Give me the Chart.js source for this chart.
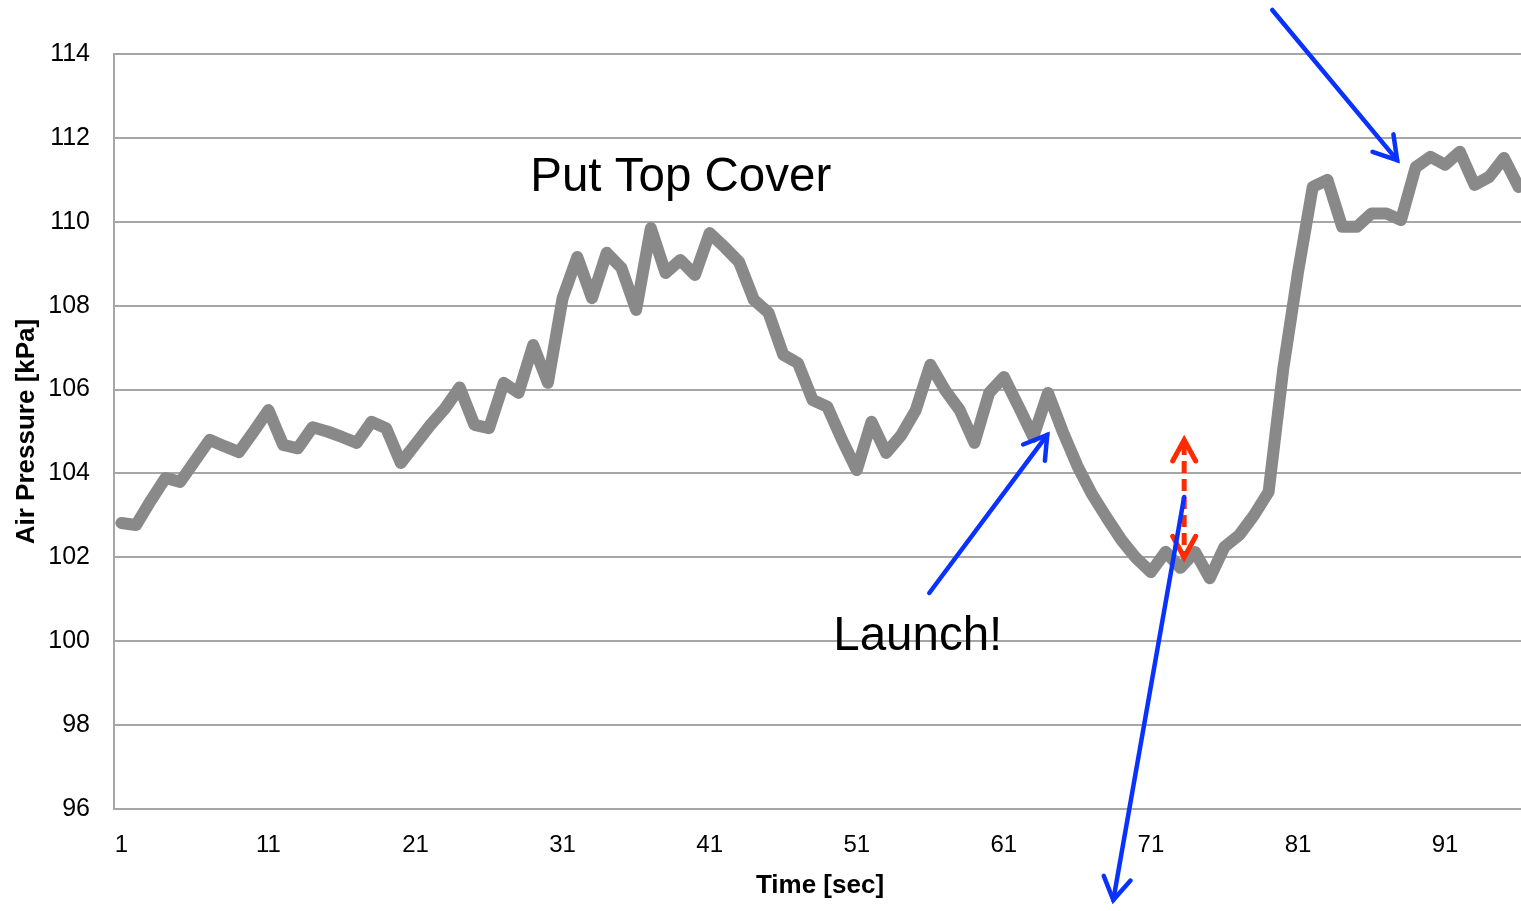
<!DOCTYPE html>
<html>
<head>
<meta charset="utf-8">
<title>Air Pressure</title>
<script src="https://cdn.jsdelivr.net/npm/chart.js@4.4.1/dist/chart.umd.min.js"></script>
<style>
  html, body { margin: 0; padding: 0; background: #fff; overflow: hidden; }
  #wrap { width: 1526px; height: 911px; position: relative; }
</style>
</head>
<body>
<div id="wrap"><canvas id="myChart"></canvas></div>
<script>
// seconds 1..96
var timeLabels = [];
for (var t = 1; t <= 96; t++) {
  timeLabels.push(String(t));
}

// air pressure [kPa]
var pressure = [
  102.82, 102.77, 103.35, 103.89, 103.8, 104.3, 104.8, 104.65, 104.51, 105.0,
  105.51, 104.68, 104.6, 105.1, 105.0, 104.87, 104.73, 105.23, 105.08, 104.25,
  104.7, 105.15, 105.55, 106.05, 105.16, 105.08, 106.16, 105.92, 107.06, 106.16,
  108.18, 109.16, 108.18, 109.26, 108.9, 107.9, 109.85, 108.78, 109.09, 108.73,
  109.73, 109.4, 109.04, 108.14, 107.83, 106.83, 106.63, 105.75, 105.59, 104.8,
  104.08, 105.23, 104.49, 104.9, 105.5, 106.59, 105.99, 105.51, 104.73, 105.92,
  106.3, 105.6, 104.87, 105.92, 105.0, 104.18, 103.5, 102.94, 102.41, 101.98,
  101.65, 102.13, 101.75, 102.13, 101.5, 102.25, 102.53, 103.0, 103.56, 106.5,
  108.8, 110.83, 111.0, 109.88, 109.88, 110.2, 110.2, 110.04, 111.3, 111.55,
  111.36, 111.67, 110.88, 111.07, 111.52, 110.83
];

// notes on the chart, in data units (x = category index from 0, y = kPa)
var notes = [
  { text: 'Put Top Cover', x: 27.8, y: 111.05 },
  { text: 'Launch!', x: 48.4, y: 100.1 }
];
var blueArrows = [
  { x1: 54.93, y1: 101.15, x2: 62.95, y2: 104.92 },
  { x1: 78.25, y1: 115.05, x2: 86.74, y2: 111.47 },
  { x1: 72.26, y1: 103.44, x2: 67.44, y2: 93.83 }
];
var redArrow = { x: 72.26, y1: 102.0, y2: 104.8 };

function arrowHead(ctx, fromX, fromY, toX, toY, len, spread) {
  var ang = Math.atan2(toY - fromY, toX - fromX);
  ctx.beginPath();
  ctx.moveTo(toX - len * Math.cos(ang - spread), toY - len * Math.sin(ang - spread));
  ctx.lineTo(toX, toY);
  ctx.lineTo(toX - len * Math.cos(ang + spread), toY - len * Math.sin(ang + spread));
  ctx.stroke();
}

var notesPlugin = {
  id: 'notes',
  afterDatasetsDraw: function(chart) {
    var ctx = chart.ctx;
    var xs = chart.scales.x;
    var ys = chart.scales.y;
    ctx.save();

    // red dashed double arrow
    var rx = xs.getPixelForValue(redArrow.x);
    var rTop = ys.getPixelForValue(redArrow.y2);
    var rBot = ys.getPixelForValue(redArrow.y1);
    ctx.strokeStyle = '#ff2a00';
    ctx.lineWidth = 5;
    ctx.lineCap = 'butt';
    ctx.setLineDash([12, 6]);
    ctx.beginPath();
    ctx.moveTo(rx, rTop + 3);
    ctx.lineTo(rx, rBot - 3);
    ctx.stroke();
    ctx.setLineDash([]);
    ctx.lineCap = 'round';
    ctx.lineJoin = 'miter';
    arrowHead(ctx, rx, rBot, rx, rTop, 24, 0.5);
    arrowHead(ctx, rx, rTop, rx, rBot, 24, 0.5);

    // blue arrows
    ctx.strokeStyle = '#0a32ff';
    ctx.lineWidth = 4.5;
    ctx.lineCap = 'round';
    for (var i in blueArrows) {
      var a = blueArrows[i];
      var x1 = xs.getPixelForValue(a.x1), y1 = ys.getPixelForValue(a.y1);
      var x2 = xs.getPixelForValue(a.x2), y2 = ys.getPixelForValue(a.y2);
      ctx.beginPath();
      ctx.moveTo(x1, y1);
      ctx.lineTo(x2, y2);
      ctx.stroke();
      arrowHead(ctx, x1, y1, x2, y2, 26, 0.55);
    }

    // text notes
    ctx.fillStyle = '#000';
    ctx.font = '47.5px "Liberation Sans", Arial, sans-serif';
    ctx.textAlign = 'left';
    ctx.textBaseline = 'middle';
    for (var j in notes) {
      ctx.fillText(notes[j].text, xs.getPixelForValue(notes[j].x), ys.getPixelForValue(notes[j].y));
    }
    ctx.restore();
  }
};

var data = {
  labels: timeLabels,
  datasets: [{
    label: 'Air Pressure',
    data: pressure,
    borderColor: '#898989',
    backgroundColor: '#898989',
    borderWidth: 12,
    borderJoinStyle: 'round',
    borderCapStyle: 'round',
    pointRadius: 0,
    tension: 0,
    fill: false
  }]
};

var config = {
  type: 'line',
  data: data,
  plugins: [notesPlugin],
  options: {
    responsive: true,
    maintainAspectRatio: false,
    animation: false,
    layout: { padding: { top: 54, right: 0, bottom: 0, left: 0 } },
    plugins: {
      legend: { display: false },
      tooltip: { enabled: false },
      title: { display: false }
    },
    scales: {
      x: {
        offset: true,
        grid: { display: false, drawTicks: false },
        border: { display: false },
        afterFit: function(scale) {
          scale.height = 102;
          scale.paddingRight = 0;
        },
        ticks: {
          autoSkip: false,
          maxRotation: 0,
          padding: 22,
          color: '#000',
          font: { family: '"Liberation Sans", Arial, sans-serif', size: 24 },
          callback: function(val, index) {
            return index % 10 === 0 ? this.getLabelForValue(val) : '';
          }
        },
        title: {
          display: true,
          text: 'Time [sec]',
          color: '#000',
          font: { family: '"Liberation Sans", Arial, sans-serif', size: 26, weight: 'bold' },
          padding: { top: 0, bottom: 10 }
        }
      },
      y: {
        min: 96,
        max: 114,
        afterFit: function(scale) { scale.width = 114; },
        grid: { color: '#a6a6a6', lineWidth: 2, drawTicks: false },
        border: { display: true, color: '#a6a6a6', width: 2 },
        ticks: {
          stepSize: 2,
          padding: 24,
          color: '#000',
          font: { family: '"Liberation Sans", Arial, sans-serif', size: 25 }
        },
        title: {
          display: true,
          text: 'Air Pressure [kPa]',
          color: '#000',
          font: { family: '"Liberation Sans", Arial, sans-serif', size: 26, weight: 'bold' },
          padding: { top: 11, bottom: 0 }
        }
      }
    }
  }
};

var myChart = new Chart(document.getElementById('myChart'), config);
</script>
</body>
</html>
